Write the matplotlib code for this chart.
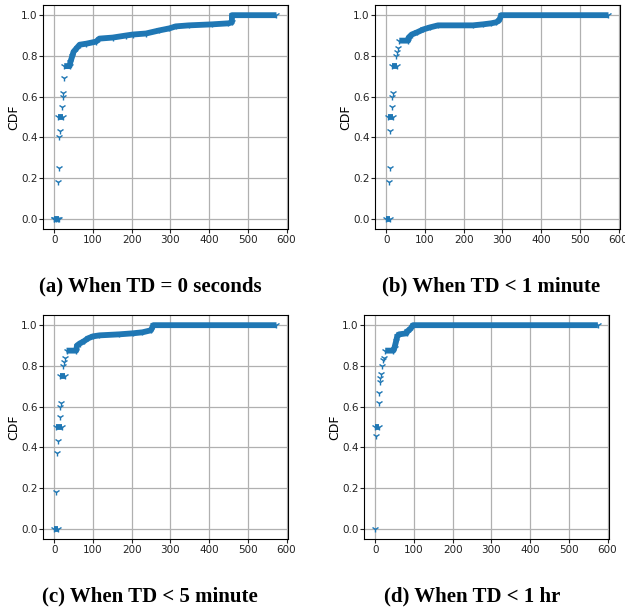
"""
CDF of time gaps under four TD thresholds (2x2 panels with captions).
Values read off the reference picture.
"""
import matplotlib
matplotlib.use("Agg")
import matplotlib.pyplot as plt

BLUE = "#1f77b4"

# ---- (a) TD = 0 seconds ----
a_pts_x = [0, 5, 10, 10, 12, 13, 14, 20, 22, 24, 25]
a_pts_y = [0.0, 0.0, 0.0, 0.18, 0.25, 0.40, 0.43, 0.55, 0.60, 0.62, 0.69]
a_runs = [(0.0, 0, 12), (0.50, 11, 23)]
a_curve_x = [26, 40, 42, 47, 50, 59, 66, 83, 108, 117, 151, 185, 203,
             237, 271, 297, 314, 348, 408, 450, 459, 459, 574]
a_curve_y = [0.75, 0.75, 0.77, 0.80, 0.82, 0.84, 0.855, 0.86, 0.87, 0.885,
             0.89, 0.90, 0.905, 0.91, 0.925, 0.935, 0.945, 0.95, 0.955,
             0.96, 0.965, 1.0, 1.0]

# ---- (b) TD < 1 minute ----
b_pts_x = [7, 9, 9, 15, 16, 18, 26, 28, 31]
b_pts_y = [0.18, 0.25, 0.43, 0.55, 0.60, 0.62, 0.80, 0.82, 0.84]
b_runs = [(0.0, 0, 10), (0.50, 6, 19), (0.75, 15, 27)]
b_curve_x = [34, 57, 58, 66, 79, 96, 113, 134, 224, 250, 271, 284, 292,
             297, 574]
b_curve_y = [0.875, 0.875, 0.89, 0.905, 0.915, 0.93, 0.94, 0.95, 0.95,
             0.955, 0.96, 0.965, 0.975, 1.0, 1.0]

# ---- (c) TD < 5 minute ----
c_pts_x = [6, 8, 9, 15, 16, 17, 24, 26, 28]
c_pts_y = [0.18, 0.37, 0.43, 0.55, 0.60, 0.62, 0.80, 0.82, 0.84]
c_runs = [(0.0, 0, 10), (0.50, 6, 20), (0.75, 16, 27)]
c_curve_x = [32, 57, 59, 66, 76, 87, 100, 117, 168, 203, 228, 250, 256,
             574]
c_curve_y = [0.875, 0.875, 0.90, 0.91, 0.92, 0.935, 0.945, 0.95, 0.955,
             0.96, 0.965, 0.975, 1.0, 1.0]

# ---- (d) TD < 1 hr ----
d_pts_x = [0, 2, 9, 10, 12, 13, 15, 19, 21, 23]
d_pts_y = [0.0, 0.455, 0.62, 0.665, 0.72, 0.74, 0.76, 0.80, 0.83, 0.84]
d_runs = [(0.50, 0, 11)]
d_curve_x = [26, 47, 50, 54, 57, 62, 81, 83, 90, 94, 98, 575]
d_curve_y = [0.875, 0.875, 0.89, 0.92, 0.945, 0.955, 0.96, 0.97, 0.98,
             0.99, 1.0, 1.0]

captions = ["(a) When TD = 0 seconds", "(b) When TD < 1 minute",
            "(c) When TD < 5 minute", "(d) When TD < 1 hr"]

panels = [
    (a_pts_x, a_pts_y, a_runs, a_curve_x, a_curve_y),
    (b_pts_x, b_pts_y, b_runs, b_curve_x, b_curve_y),
    (c_pts_x, c_pts_y, c_runs, c_curve_x, c_curve_y),
    (d_pts_x, d_pts_y, d_runs, d_curve_x, d_curve_y),
]

W, H = 625, 607
# axes boxes in pixels: left, top, width, height
boxes = [(43, 5, 245, 224), (375, 5, 245, 224),
         (43, 315, 245, 224), (364, 315, 245, 224)]
cap_pos = [(150, 286), (491, 286), (150, 596), (472, 596)]

fig = plt.figure(figsize=(W / 100, H / 100), dpi=100)

for (px, py, runs, cx, cy), (l, t, w, h), cap, (tx, ty) in zip(
        panels, boxes, captions, cap_pos):
    ax = fig.add_axes([l / W, 1 - (t + h) / H, w / W, h / H])
    ax.plot(cx, cy, color=BLUE, lw=4.2, solid_capstyle="butt", zorder=3)
    ax.plot(cx, cy, ls="none", marker="1", ms=5, mew=1, color=BLUE, zorder=3)
    for y, x0, x1 in runs:
        ax.plot([x0, x1], [y, y], color=BLUE, lw=4.2,
                solid_capstyle="butt", zorder=3)
        ax.plot([x0, x1], [y, y], ls="none", marker="1", ms=5, mew=1,
                color=BLUE, zorder=3)
    ax.plot(px, py, ls="none", marker="1", ms=5, mew=1, color=BLUE, zorder=3)

    ax.set_xlim(-28.75, 603.75)
    ax.set_ylim(-0.05, 1.05)
    ax.set_xticks([0, 100, 200, 300, 400, 500, 600])
    ax.set_yticks([0.0, 0.2, 0.4, 0.6, 0.8, 1.0])
    ax.tick_params(labelsize=7.5, length=2.8, pad=1.2, colors="#222222")
    ax.grid(True, color="#b0b0b0", lw=0.9)
    ax.set_axisbelow(True)
    ax.set_ylabel("CDF", fontsize=9, labelpad=0.5)
    fig.text(tx / W, 1 - ty / H, cap, ha="center", va="center",
             fontsize=15, fontweight="bold", family="Liberation Serif")

fig.savefig("out.png", dpi=100)
